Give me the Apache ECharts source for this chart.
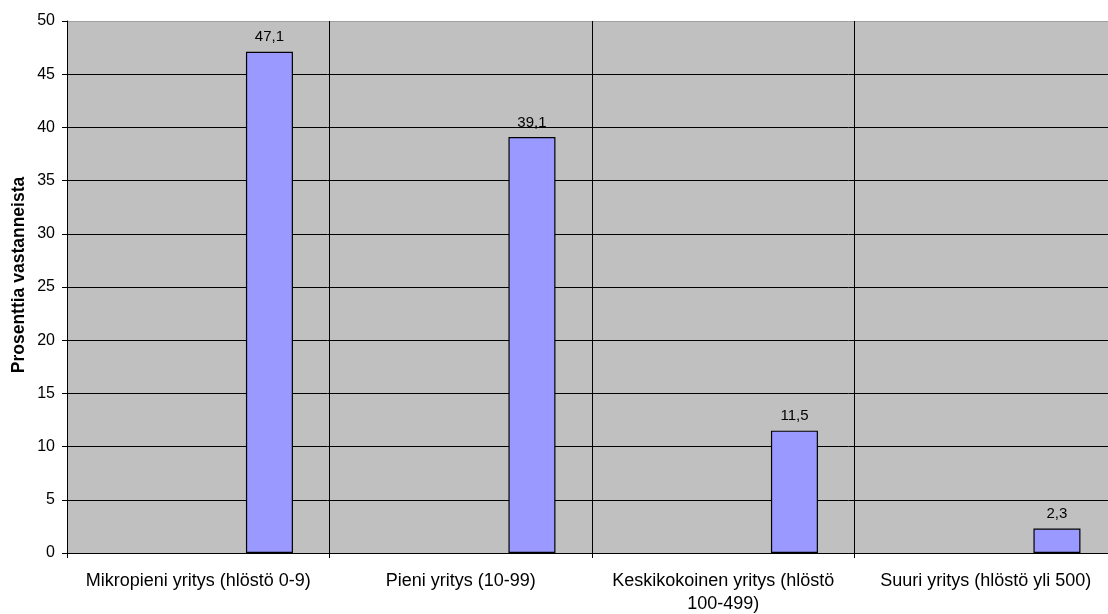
<!DOCTYPE html>
<html>
<head>
<meta charset="utf-8">
<script src="https://cdn.jsdelivr.net/npm/echarts@6/dist/echarts.min.js"></script>
<style>
  html, body { margin: 0; padding: 0; background: #fff; }
  #chart { width: 1108px; height: 614px; }
</style>
</head>
<body>
<div id="chart"></div>
<script>
// Company size categories and share of respondents (%)
const categories = [
  'Mikropieni yritys (hlöstö 0-9)',
  'Pieni yritys (10-99)',
  'Keskikokoinen yritys (hlöstö\n100-499)',
  'Suuri yritys (hlöstö yli 500)'
];
const shares = [47.1, 39.1, 11.5, 2.3];
const yTicks = [0, 5, 10, 15, 20, 25, 30, 35, 40, 45, 50];

const font = '"Liberation Sans", Arial, sans-serif';

// Horizontal grid lines are black, the top frame edge is grey
const splitColors = yTicks.map((t, i) => i === yTicks.length - 1 ? '#a0a0a0' : '#000');

const chart = echarts.init(document.getElementById('chart'), null, { renderer: 'canvas' });
chart.setOption({
  animation: false,
  backgroundColor: '#ffffff',
  textStyle: { fontFamily: font },
  grid: {
    left: 67, right: -9, top: 21, bottom: 61,
    containLabel: false, outerBoundsMode: 'none',
    show: true, backgroundColor: '#c0c0c0', borderWidth: 0
  },
  xAxis: {
    type: 'category',
    data: categories,
    axisLine: { lineStyle: { color: '#000', width: 1 } },
    axisTick: { show: true, length: 5, lineStyle: { color: '#000' } },
    splitLine: { show: true, lineStyle: { color: '#000', width: 1 } },
    axisLabel: { color: '#000', fontSize: 18, margin: 17, lineHeight: 23, interval: 0, fontFamily: font, hideOverlap: false }
  },
  yAxis: {
    type: 'value',
    min: yTicks[0],
    max: yTicks[yTicks.length - 1],
    interval: 5,
    name: 'Prosenttia vastanneista',
    nameLocation: 'middle',
    nameGap: 39,
    nameMoveOverlap: false,
    nameRotate: 90,
    nameTextStyle: { color: '#000', fontSize: 17.5, fontWeight: 'bold', fontFamily: font, padding: [0, 0, 0, 24] },
    axisLine: { show: true, lineStyle: { color: '#000', width: 1 } },
    axisTick: { show: true, length: 5, lineStyle: { color: '#000' } },
    splitLine: { show: true, lineStyle: { color: splitColors, width: 1 } },
    axisLabel: { color: '#000', fontSize: 16, margin: 12, fontFamily: font }
  },
  series: [
    {
      // empty companion series reserving the left slot in each category
      type: 'bar',
      data: categories.map(() => null),
      barWidth: 47,
      barGap: '203%',
      silent: true
    },
    {
      type: 'bar',
      data: shares,
      barWidth: 47,
      barGap: '203%',
      itemStyle: { color: '#9999ff', borderColor: '#000', borderWidth: 1.2 },
      label: {
        show: true,
        position: 'top',
        distance: 7,
        color: '#000',
        fontSize: 15,
        fontFamily: font,
        formatter: p => String(p.value).replace('.', ',')
      }
    }
  ]
});
</script>
</body>
</html>
